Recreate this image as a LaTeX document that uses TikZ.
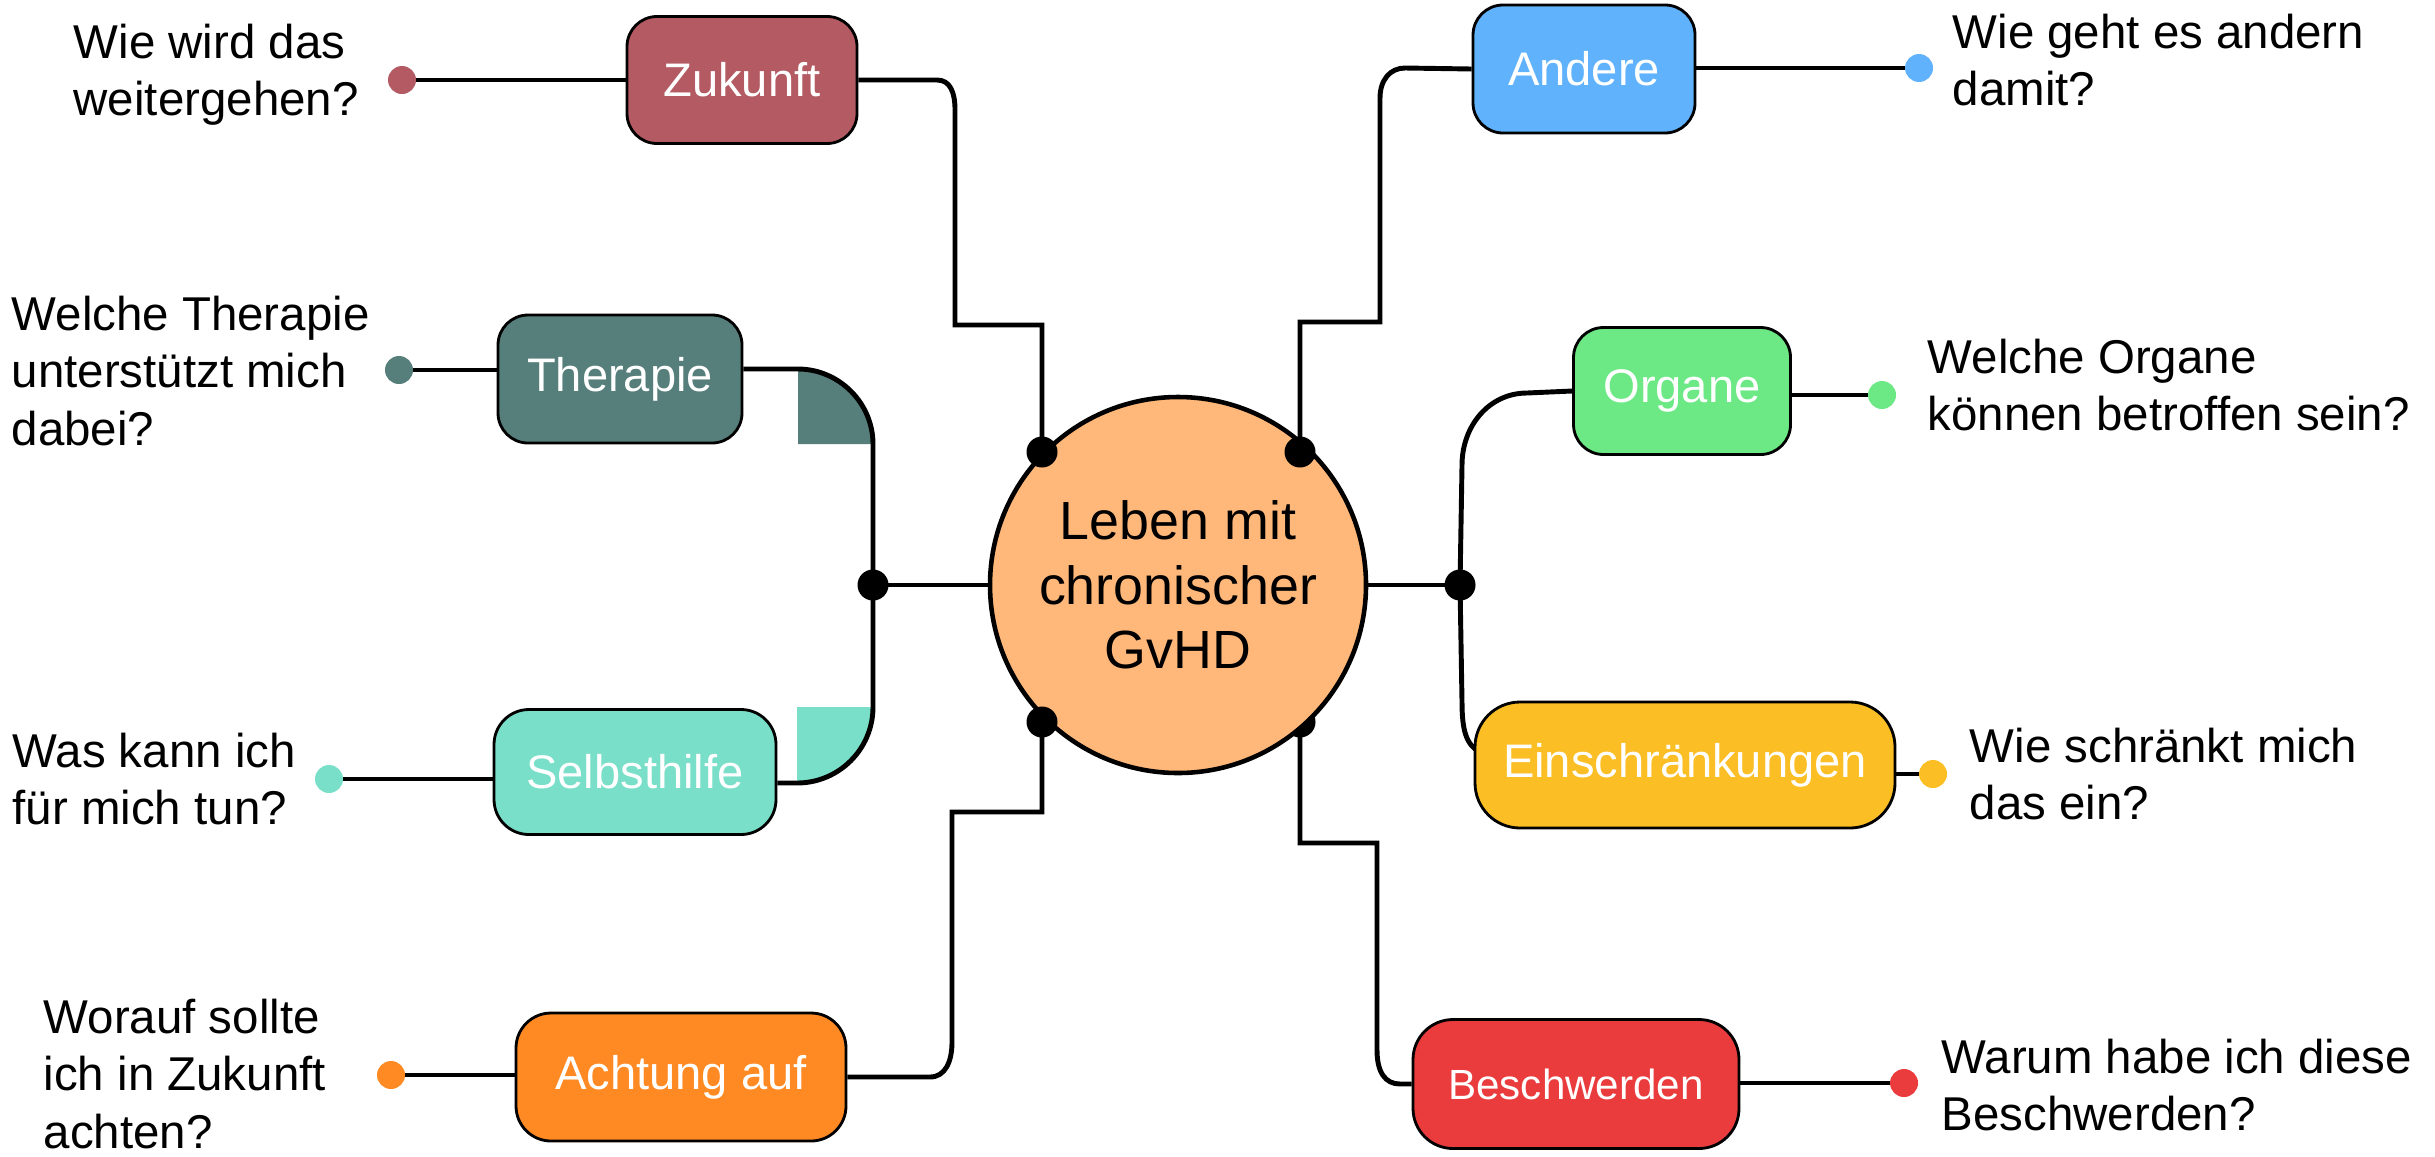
\documentclass[tikz,border=0pt]{standalone}
\usepackage{fontspec}
\setmainfont{Liberation Sans}
\usetikzlibrary{backgrounds,calc}
\definecolor{cZuk}{HTML}{B35A62}
\definecolor{cTher}{HTML}{567F7B}
\definecolor{cSelb}{HTML}{79DFC8}
\definecolor{cAcht}{HTML}{FF8A24}
\definecolor{cAnd}{HTML}{5FB2FB}
\definecolor{cOrg}{HTML}{6CE885}
\definecolor{cEin}{HTML}{FBBE24}
\definecolor{cBes}{HTML}{EA3B3D}
\definecolor{cHub}{HTML}{FFB87A}
\begin{document}
\begin{tikzpicture}[x=0.1mm,y=-0.1mm,
  topic/.style={draw=black, line width=0.8pt, rounded corners=3mm, text=white, inner sep=0pt,
    font=\fontsize{13.4}{16}\selectfont},
  link/.style={line width=1.4pt, draw=black},
  qdot/.style={circle, inner sep=0pt, minimum size=2.8mm},
  hubdot/.style={circle, fill=black, inner sep=0pt, minimum size=3.1mm},
  question/.style={align=left, anchor=west, inner sep=0pt, font=\fontsize{13.5}{16.3}\selectfont}]
\useasboundingbox (0,0) rectangle (2435,1156);

% topic boxes
\node[topic, fill=cZuk, minimum width=23mm, minimum height=12.7mm] (zuk) at (742,80) {Zukunft};
\node[topic, fill=cTher, minimum width=24.4mm, minimum height=12.8mm] (ther) at (620,379) {Therapie};
\node[topic, fill=cSelb, rounded corners=3.5mm, minimum width=28.2mm, minimum height=12.5mm] (selb) at (635,772) {Selbsthilfe};
\node[topic, fill=cAcht, rounded corners=3.5mm, minimum width=33mm, minimum height=12.8mm] (acht) at (681,1077) {Achtung auf};
\node[topic, fill=cAnd, minimum width=22.2mm, minimum height=12.8mm] (and) at (1584,69) {Andere};
\node[topic, fill=cOrg, minimum width=21.7mm, minimum height=12.7mm] (org) at (1682,391) {Organe};
\node[topic, fill=cEin, rounded corners=4.5mm, minimum width=42mm, minimum height=12.6mm] (ein) at (1685,765) {Einschränkungen};
\node[topic, fill=cBes, rounded corners=4mm, minimum width=32.6mm, minimum height=12.9mm,
  font=\fontsize{12}{14}\selectfont] (besch) at (1576,1084) {Beschwerden};

% question dots
\node[qdot, fill=cZuk] (qZ) at (402,80) {};
\node[qdot, fill=cTher] (qT) at (399,370) {};
\node[qdot, fill=cSelb] (qS) at (329,779) {};
\node[qdot, fill=cAcht] (qA) at (391,1075) {};
\node[qdot, fill=cAnd] (qAn) at (1919,68) {};
\node[qdot, fill=cOrg] (qO) at (1882,395) {};
\node[qdot, fill=cEin] (qE) at (1933,774) {};
\node[qdot, fill=cBes] (qB) at (1904,1083) {};

% questions
\node[question] (tZ) at (73,75) {Wie wird das\\weitergehen?};
\node[question] (tT) at (11,371) {Welche Therapie\\unterstützt mich\\dabei?};
\node[question] (tS) at (12,779) {Was kann ich\\für mich tun?};
\node[question] (tA) at (43,1074) {Worauf sollte\\ich in Zukunft\\achten?};
\node[question] (tAn) at (1952,60) {Wie geht es andern\\damit?};
\node[question] (tO) at (1927,385) {Welche Organe\\können betroffen sein?};
\node[question] (tE) at (1969,774) {Wie schränkt mich\\das ein?};
\node[question] (tB) at (1941,1085) {Warum habe ich diese\\Beschwerden?};

% hub, dots and junctions
\node[hubdot] (dLR) at (1300,722) {};
\node[circle, draw=black, line width=1.3pt, fill=cHub, minimum size=37.6mm, inner sep=0pt, align=center,
  font=\fontsize{15.3}{18.3}\selectfont] (hub) at (1178,585) {Leben mit\\chronischer\\GvHD};
\node[hubdot] (dUL) at (1042,452) {};
\node[hubdot] (dUR) at (1300,452) {};
\node[hubdot] (dLL) at (1042,722) {};
\node[hubdot] (jl) at (873,585) {};
\node[hubdot] (jr) at (1460,585) {};

\begin{pgfonlayer}{background}
  % quarter discs
  \fill[cTher] (798,444) -- (798,369) .. controls (839,369) and (873,403) .. (873,444) -- cycle;
  \fill[cSelb] (797,707) -- (797,783) .. controls (839,783) and (873,749) .. (873,707) -- cycle;
  % connectors to hub
  \draw[link] (zuk.east) -- (937,80) .. controls (950,80) and (955,92) .. (955,110)
     -- (955,325) -- (1042,325) -- (dUL.center);
  \draw[link] (and.west) -- (1405,68) .. controls (1390,68) and (1380,80) .. (1380,98)
     -- (1380,322) -- (1300,322) -- (dUR.center);
  \draw[link] ($(ther.east)+(0,-10)$) -- (798,369) .. controls (839,369) and (873,403) .. (873,444) -- (jl.center);
  \draw[link] ($(selb.east)+(0,11)$) -- (797,783) .. controls (839,783) and (873,749) .. (873,707) -- (jl.center);
  \draw[link] (jl.center) -- (hub.west);
  \draw[link] (acht.east) -- (930,1077) .. controls (945,1077) and (952,1062) .. (952,1042)
     -- (952,812) -- (1042,812) -- (dLL.center);
  \draw[link] (dLR.center) -- (1300,843) -- (1377,843) -- (1377,1050)
     .. controls (1377,1072) and (1385,1084) .. (1400,1084) -- (besch.west);
  \draw[link] (org.west) -- (1527,393) .. controls (1489,393) and (1462,426) .. (1462,465) -- (jr.center);
  \draw[link] (hub.east) -- (jr.center);
  \draw[link] (jr.center) -- (1462,702) .. controls (1462,730) and (1466,745) .. (1480,752);
  % question connectors
  \draw[link] (qZ.center) -- (qZ.center -| zuk.west);
  \draw[link] (qT.center) -- (qT.center -| ther.west);
  \draw[link] (qS.center) -- (qS.center -| selb.west);
  \draw[link] (qA.center) -- (qA.center -| acht.west);
  \draw[link] (qAn.center) -- (qAn.center -| and.east);
  \draw[link] (qO.center) -- (qO.center -| org.east);
  \draw[link] (qE.center) -- (qE.center -| ein.east);
  \draw[link] (qB.center) -- (qB.center -| besch.east);
\end{pgfonlayer}
\end{tikzpicture}
\end{document}
